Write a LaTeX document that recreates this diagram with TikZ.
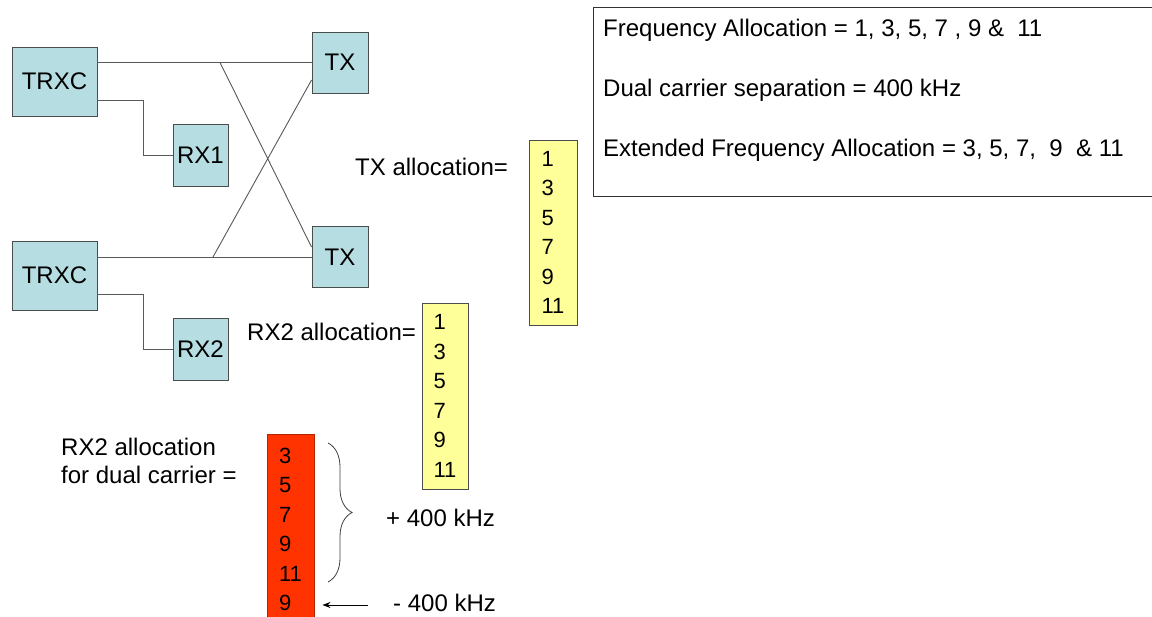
\documentclass[tikz,border=0pt]{standalone}
\usepackage{fontspec}
\setmainfont{Liberation Sans}
\usetikzlibrary{arrows.meta,decorations.pathreplacing,calc}
\definecolor{boxblue}{RGB}{182,222,226}
\definecolor{boxyellow}{RGB}{255,255,153}
\definecolor{boxred}{RGB}{255,51,0}
\begin{document}
\begin{tikzpicture}[x=1pt,y=-1pt,
  blk/.style={draw=black!70, fill=boxblue, line width=0.9pt, inner sep=0pt, font=\fontsize{24}{28}\selectfont},
  wire/.style={draw=black!65, line width=0.9pt},
  lbl/.style={anchor=base west, inner sep=0pt, font=\fontsize{24}{28}\selectfont},
  col/.style={draw=black!70, line width=0.9pt, inner sep=0pt, align=left, font=\fontsize{22}{29.5}\selectfont},
]
\useasboundingbox (0,0) rectangle (1152,617);
\clip (0,0) rectangle (1152,617);
\fill[white] (0,0) rectangle (1152,617);

% blocks
\node[blk, minimum width=85pt, minimum height=69pt] (t1) at (54.5,81.5) {TRXC};
\node[blk, minimum width=85pt, minimum height=69pt] (t2) at (54.5,275.5) {TRXC};
\node[blk, minimum width=55pt, minimum height=62pt] (rx1) at (200.5,155) {RX1};
\node[blk, minimum width=55pt, minimum height=62pt] (rx2) at (200.5,349) {RX2};
\node[blk, minimum width=56pt, minimum height=61pt] (tx1) at (340,62.5) {TX};
\node[blk, minimum width=56pt, minimum height=61pt] (tx2) at (340,257) {TX};

% wires
\draw[wire] (tx1.west) -- (tx1.west -| t1.east);
\draw[wire] (tx2.west) -- (tx2.west -| t2.east);
\draw[wire] ([yshift=-18.5pt]t1.east) -- ++(46,0) |- (rx1.west);
\draw[wire] ([yshift=-18.5pt]t2.east) -- ++(46,0) |- (rx2.west);
\coordinate (c1) at (220,62.5);
\coordinate (c2) at (213,257);
\draw[wire] (c1) -- ([yshift=10pt]tx2.west);
\draw[wire] (c2) -- ([yshift=-17.5pt]tx1.west);

% allocation columns
\node[col, fill=boxyellow, minimum width=48pt, minimum height=185pt] (ytx) at (553,232.5) {1\\3\\5\\7\\9\\11};
\node[col, fill=boxyellow, minimum width=46pt, minimum height=186pt] (yrx) at (445,396) {1\\3\\5\\7\\9\\11};
\node[col, draw=boxred!70!black, fill=boxred, minimum width=47pt, minimum height=191pt] (red) at (290.5,529.5) {3\\5\\7\\9\\11\\9};

% labels
\node[lbl] (ltx) at (355,176) {TX allocation=};
\node[lbl] (lrx) at (247,341) {RX2 allocation=};
\node[lbl] (ld1) at (61,456) {RX2 allocation};
\node[lbl] (ld2) at (61,484) {for dual carrier =};
\node[lbl] (lp) at (386,526) {+ 400 kHz};
\node[lbl] (lm) at (393,611) {- 400 kHz};

% brace and arrow
\coordinate (b1) at (328,443);
\coordinate (b2) at (328,582);
\draw[black!75, line width=0.8pt, decorate, decoration={brace, amplitude=24pt, aspect=0.5}] (b1) -- (b2);
\coordinate (a1) at (368,605);
\draw[black, line width=0.8pt, -{Stealth[length=8pt,width=6pt]}] (a1) -- ([xshift=8pt]red.east |- a1);

% info box
\node[draw=black!80, line width=1pt, minimum width=620pt, minimum height=189pt, anchor=north west, inner sep=0pt] (info) at (593,7) {};
\node[lbl] (f1) at (603,37) {Frequency Allocation = 1, 3, 5, 7 , 9 \&\ \ 11};
\node[lbl] (f2) at (603,97) {Dual carrier separation = 400 kHz};
\node[lbl] (f3) at (603,157) {Extended Frequency Allocation = 3, 5, 7,\ \ 9\ \ \& 11};
\end{tikzpicture}
\end{document}
